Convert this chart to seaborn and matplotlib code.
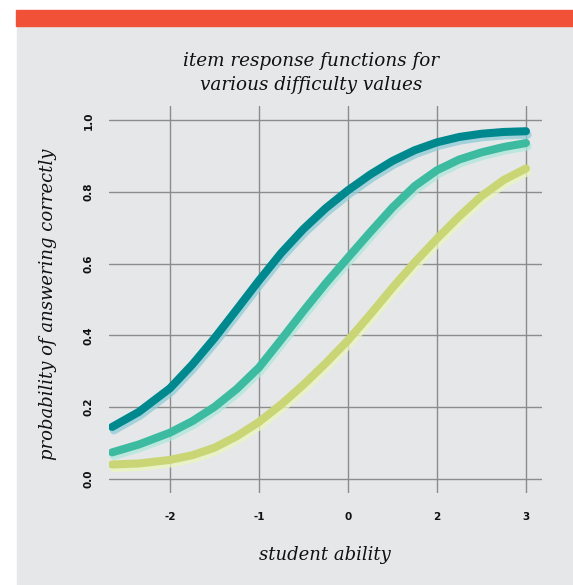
import pandas as pd
import seaborn as sns
import matplotlib.pyplot as plt
import matplotlib.patheffects as pe
from matplotlib.patches import Rectangle

# posições no eixo x (os rótulos -2,-1,0,2,3 ficam igualmente espaçados)
habilidade = [-2.65, -2.35, -2.0, -1.75, -1.5, -1.25, -1.0, -0.75, -0.5, -0.25,
              0.0, 0.25, 0.5, 0.75, 1.0, 1.25, 1.5, 1.75, 2.0]
xtick_pos = [-2, -1, 0, 1, 2]
xtick_labels = ["-2", "-1", "0", "2", "3"]
ytick_pos = [0.0, 0.2, 0.4, 0.6, 0.8, 1.0]

prob_facil = [0.144, 0.186, 0.252, 0.318, 0.392, 0.472, 0.553, 0.630, 0.697, 0.755,
              0.805, 0.849, 0.887, 0.917, 0.939, 0.954, 0.963, 0.968, 0.970]
prob_media = [0.073, 0.095, 0.128, 0.160, 0.200, 0.250, 0.310, 0.388, 0.468, 0.545,
              0.617, 0.688, 0.757, 0.817, 0.861, 0.891, 0.911, 0.926, 0.937]
prob_dificil = [0.039, 0.042, 0.052, 0.065, 0.086, 0.118, 0.158, 0.207, 0.262, 0.322,
                0.386, 0.458, 0.533, 0.604, 0.670, 0.732, 0.789, 0.834, 0.866]

cores = ["#00888F", "#3DBBA0", "#CAD675"]
sombras = ["#8DCCD6", "#ADE8DB", "#EAF7BB"]

sns.set_theme(style="white")
plt.rcParams["font.family"] = ["DejaVu Sans"]

fig = plt.figure(figsize=(5.73, 5.85), dpi=100)
fig.patch.set_facecolor("white")
fundo = "#E6E7E9"
fig.add_artist(Rectangle((17 / 573, 0), 1 - 17 / 573, 1 - 26 / 585,
                         transform=fig.transFigure, color=fundo, zorder=-2))
fig.add_artist(Rectangle((16 / 573, 1 - 26 / 585), 1 - 16 / 573, 16 / 585,
                         transform=fig.transFigure, color="#F05137", zorder=-2))

ax = fig.add_axes([109 / 573, 1 - 493 / 585, 433 / 573, 387 / 585])
ax.set_facecolor(fundo)

for probs, cor, sombra in zip([prob_facil, prob_media, prob_dificil], cores, sombras):
    df = pd.DataFrame({"habilidade": habilidade, "prob": probs})
    sns.lineplot(data=df, x="habilidade", y="prob", ax=ax, color=cor,
                 linewidth=5.8, solid_capstyle="round", solid_joinstyle="round",
                 path_effects=[pe.SimpleLineShadow(offset=(1.2, -2.5), shadow_color=sombra,
                                                   alpha=0.75, rho=1.0),
                               pe.Normal()],
                 zorder=3)

ax.set_xlim(-2.685, 2.18)
ax.set_ylim(-0.0405, 1.0405)
ax.set_xticks(xtick_pos)
ax.set_xticklabels(xtick_labels)
ax.set_yticks(ytick_pos)
ax.set_yticklabels([f"{v:.1f}" for v in ytick_pos], rotation=90, va="center")
ax.grid(True, color="#8C8C8C", linewidth=1.0)
ax.set_axisbelow(True)
for s in ax.spines.values():
    s.set_visible(False)
ax.tick_params(length=0, labelsize=7.5, colors="#111111")
ax.tick_params(axis="x", pad=14)
ax.tick_params(axis="y", pad=11)
for lbl in ax.get_xticklabels() + ax.get_yticklabels():
    lbl.set_fontweight("bold")

ax.set_xlabel("")
ax.set_ylabel("")
fig.text(325 / 573, 1 - 555 / 585, "student ability", ha="center", va="center",
         family="DejaVu Serif", style="italic", fontsize=13, color="#111111")
fig.text(48 / 573, 1 - 304 / 585, "probability of answering correctly", ha="center",
         va="center", rotation=90, family="DejaVu Serif", style="italic",
         fontsize=13, color="#111111")
fig.text(311.5 / 573, 1 - 73 / 585, "item response functions for\nvarious difficulty values",
         ha="center", va="center", family="DejaVu Serif", style="italic",
         fontsize=13.2, linespacing=1.5, color="#111111")

fig.savefig("out.png", dpi=100, facecolor=fig.get_facecolor())
